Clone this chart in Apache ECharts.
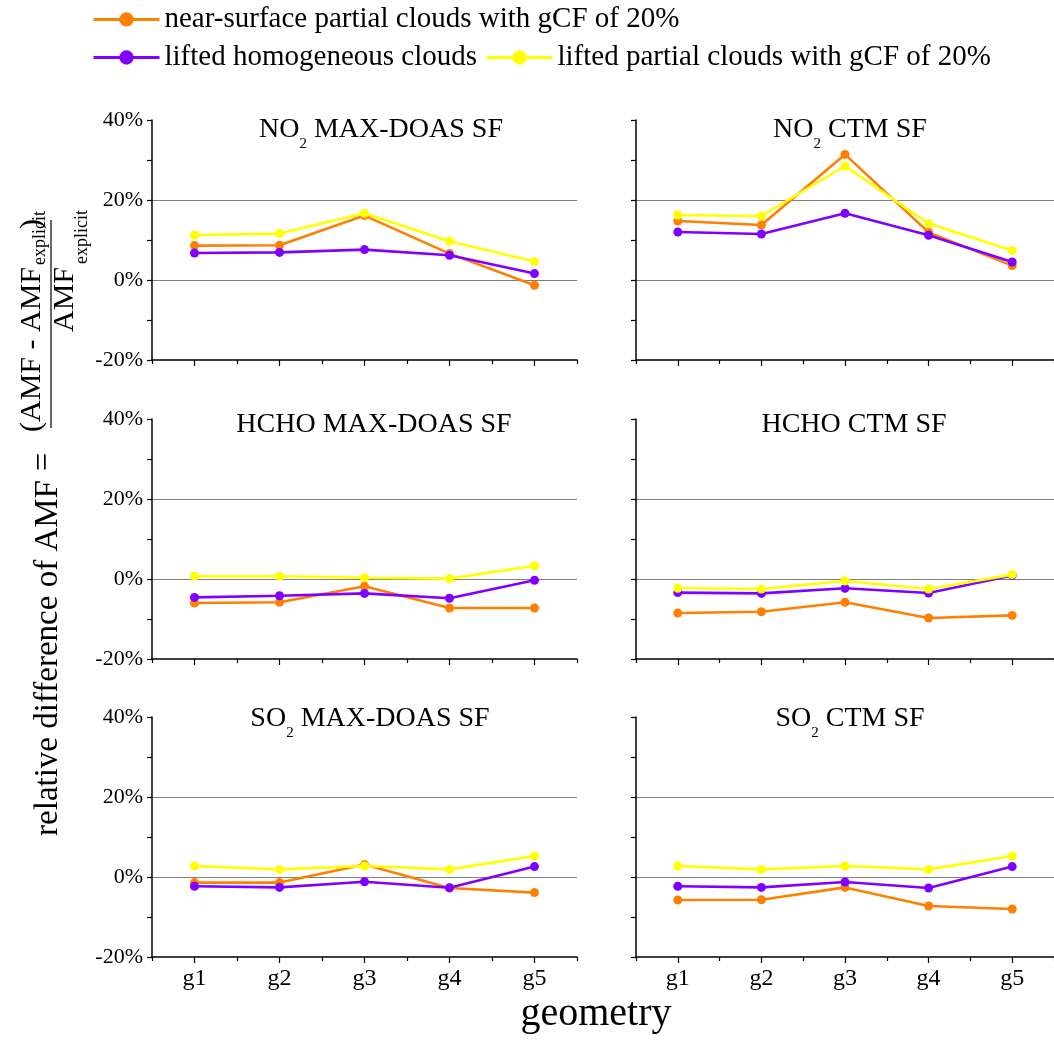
<!DOCTYPE html>
<html>
<head>
<meta charset="utf-8">
<script src="https://cdn.jsdelivr.net/npm/echarts@6/dist/echarts.min.js"></script>
<style>
html,body{margin:0;padding:0;background:#fff;}
#chart{width:1054px;height:1043px;}
</style>
</head>
<body>
<div id="chart"></div>
<script>
// ---------- data ----------
const geometries = ['g1', 'g2', 'g3', 'g4', 'g5'];
const seriesNames = [
  'near-surface partial clouds with gCF of 20%',
  'lifted homogeneous clouds',
  'lifted partial clouds with gCF of 20%'
];
const panelTitles = [
  '{m|NO}{s|2}{m| MAX-DOAS SF}',
  '{m|NO}{s|2}{m| CTM SF}',
  '{m|HCHO MAX-DOAS SF}',
  '{m|HCHO CTM SF}',
  '{m|SO}{s|2}{m| MAX-DOAS SF}',
  '{m|SO}{s|2}{m| CTM SF}'
];
const yTickValues = [-20, 0, 20, 40];

// NO2 MAX-DOAS SF
const no2MaxdoasNear    = [8.6, 8.7, 16.1, 6.6, -1.3];
const no2MaxdoasLifted  = [6.75, 6.9, 7.6, 6.2, 1.6];
const no2MaxdoasPartial = [11.25, 11.6, 16.7, 9.7, 4.6];
// NO2 CTM SF
const no2CtmNear    = [14.75, 13.75, 31.4, 11.9, 3.6];
const no2CtmLifted  = [12.0, 11.5, 16.7, 11.2, 4.5];
const no2CtmPartial = [16.25, 16.0, 28.5, 14.1, 7.4];
// HCHO MAX-DOAS SF
const hchoMaxdoasNear    = [-6.0, -5.8, -1.8, -7.25, -7.25];
const hchoMaxdoasLifted  = [-4.6, -4.2, -3.6, -4.8, -0.3];
const hchoMaxdoasPartial = [0.67, 0.67, 0.33, 0.1, 3.3];
// HCHO CTM SF
const hchoCtmNear    = [-8.5, -8.2, -5.8, -9.75, -9.1];
const hchoCtmLifted  = [-3.4, -3.6, -2.3, -3.5, 0.9];
const hchoCtmPartial = [-2.3, -2.5, -0.5, -2.5, 1.1];
// SO2 MAX-DOAS SF
const so2MaxdoasNear    = [-1.4, -1.4, 3.1, -2.75, -3.9];
const so2MaxdoasLifted  = [-2.3, -2.6, -1.2, -2.7, 2.6];
const so2MaxdoasPartial = [2.75, 1.9, 2.75, 1.9, 5.25];
// SO2 CTM SF
const so2CtmNear    = [-5.75, -5.7, -2.6, -7.25, -8.0];
const so2CtmLifted  = [-2.3, -2.6, -1.25, -2.75, 2.6];
const so2CtmPartial = [2.75, 1.9, 2.75, 1.9, 5.25];

const panelData = [
  [no2MaxdoasNear, no2MaxdoasLifted, no2MaxdoasPartial],
  [no2CtmNear, no2CtmLifted, no2CtmPartial],
  [hchoMaxdoasNear, hchoMaxdoasLifted, hchoMaxdoasPartial],
  [hchoCtmNear, hchoCtmLifted, hchoCtmPartial],
  [so2MaxdoasNear, so2MaxdoasLifted, so2MaxdoasPartial],
  [so2CtmNear, so2CtmLifted, so2CtmPartial]
];

// ---------- styling / layout ----------
const FONT = 'Liberation Serif';
const colors = ['#FF8000', '#8000FF', '#FFFF00'];
const colLeft = [152, 636];
const rowTop = [120, 419, 717];
const gridW = 425, gridH = 240;
const titleCenterX = [381, 850, 374, 854, 370, 850];
const titleMainCenterY = [130, 130, 425, 425, 719, 719];

const grids = [], xAxes = [], yAxes = [], series = [], graphics = [];
for (let i = 0; i < 6; i++) {
  const col = i % 2, row = Math.floor(i / 2);
  grids.push({ left: colLeft[col], top: rowTop[row], width: gridW, height: gridH, containLabel: false });
  xAxes.push({
    type: 'category', gridIndex: i, data: geometries, boundaryGap: true, position: 'bottom',
    axisLine: { show: true, onZero: false, lineStyle: { color: '#000', width: 1.5 } },
    axisTick: { show: true, alignWithLabel: true, length: 6, lineStyle: { color: '#000', width: 1.2 } },
    axisLabel: { show: row === 2, fontFamily: FONT, fontSize: 24, color: '#000', margin: 10 },
    splitLine: { show: false }
  });
  xAxes.push({
    type: 'category', gridIndex: i, data: geometries, boundaryGap: true, position: 'bottom',
    axisLine: { show: false, onZero: false },
    axisTick: { show: true, length: 4, lineStyle: { color: '#000', width: 1.2 } },
    axisLabel: { show: false },
    splitLine: { show: false }
  });
  yAxes.push({
    type: 'value', gridIndex: i,
    min: yTickValues[0], max: yTickValues[yTickValues.length - 1], interval: 20,
    axisLine: { show: true, onZero: false, lineStyle: { color: '#000', width: 1.5 } },
    axisTick: { show: true, length: 5, lineStyle: { color: '#000', width: 1.2 } },
    minorTick: { show: true, splitNumber: 2, length: 5, lineStyle: { color: '#000', width: 1.2 } },
    axisLabel: { show: col === 0, formatter: '{value}%', fontFamily: FONT, fontSize: 22, color: '#000', margin: 9 },
    splitLine: { show: true, lineStyle: { color: ['rgba(0,0,0,0)', '#808080', '#808080', 'rgba(0,0,0,0)'], width: 1.2 } }
  });
  for (let s = 0; s < 3; s++) {
    series.push({
      type: 'line', name: seriesNames[s], xAxisIndex: i * 2, yAxisIndex: i,
      data: panelData[i][s],
      symbol: 'circle', symbolSize: 9, showSymbol: true,
      lineStyle: { color: colors[s], width: 2.6 },
      itemStyle: { color: colors[s] },
      z: 2 + s
    });
  }
  graphics.push({
    type: 'text', x: titleCenterX[i], y: titleMainCenterY[i] - 14,
    style: {
      text: panelTitles[i], align: 'center', verticalAlign: 'top', fill: '#000',
      fontFamily: FONT, fontSize: 28,
      rich: {
        m: { fontFamily: FONT, fontSize: 28, lineHeight: 28, verticalAlign: 'top', fill: '#000' },
        s: { fontFamily: FONT, fontSize: 15, lineHeight: 15, verticalAlign: 'top', padding: [21, 0, 0, 0], fill: '#000' }
      }
    }
  });
}

// left axis title (rotated)
const R = Math.PI / 2;
graphics.push(
  { type: 'text', x: 48, y: 658, rotation: R, style: { text: 'relative difference of AMF', fontFamily: FONT, fontSize: 33, fill: '#000', align: 'center', verticalAlign: 'middle' } },
  { type: 'text', x: 44, y: 462, rotation: R, style: { text: '=', fontFamily: FONT, fontSize: 33, fill: '#000', align: 'center', verticalAlign: 'middle' } },
  { type: 'text', x: 32, y: 432, rotation: R, style: { text: '(AMF - AMF', fontFamily: FONT, fontSize: 30, fill: '#000', align: 'left', verticalAlign: 'middle' } },
  { type: 'text', x: 40, y: 265, rotation: R, style: { text: 'explicit', fontFamily: FONT, fontSize: 18, fill: '#000', align: 'left', verticalAlign: 'middle' } },
  { type: 'text', x: 32, y: 229, rotation: R, style: { text: ')', fontFamily: FONT, fontSize: 30, fill: '#000', align: 'left', verticalAlign: 'middle' } },
  { type: 'line', shape: { x1: 51, y1: 220, x2: 51, y2: 428 }, style: { stroke: '#000', lineWidth: 1.2 } },
  { type: 'text', x: 65, y: 332, rotation: R, style: { text: 'AMF', fontFamily: FONT, fontSize: 30, fill: '#000', align: 'left', verticalAlign: 'middle' } },
  { type: 'text', x: 82, y: 264, rotation: R, style: { text: 'explicit', fontFamily: FONT, fontSize: 18, fill: '#000', align: 'left', verticalAlign: 'middle' } },
  { type: 'text', x: 596, y: 1014, style: { text: 'geometry', fontFamily: FONT, fontSize: 40, fill: '#000', align: 'center', verticalAlign: 'middle' } }
);

const legendCommon = {
  orient: 'horizontal', padding: 0, itemGap: 8, itemWidth: 66, itemHeight: 18,
  textStyle: { fontFamily: FONT, fontSize: 29, color: '#000' },
  lineStyle: { width: 3 },
  selectedMode: false
};

const option = {
  animation: false,
  backgroundColor: '#fff',
  textStyle: { fontFamily: FONT },
  legend: [
    Object.assign({ left: 92, top: 5, data: [seriesNames[0]] }, legendCommon),
    Object.assign({ left: 92, top: 43, data: [seriesNames[1], seriesNames[2]] }, legendCommon)
  ],
  grid: grids,
  xAxis: xAxes,
  yAxis: yAxes,
  series: series,
  graphic: graphics
};

const chart = echarts.init(document.getElementById('chart'), null, { renderer: 'canvas' });
chart.setOption(option);
</script>
</body>
</html>
